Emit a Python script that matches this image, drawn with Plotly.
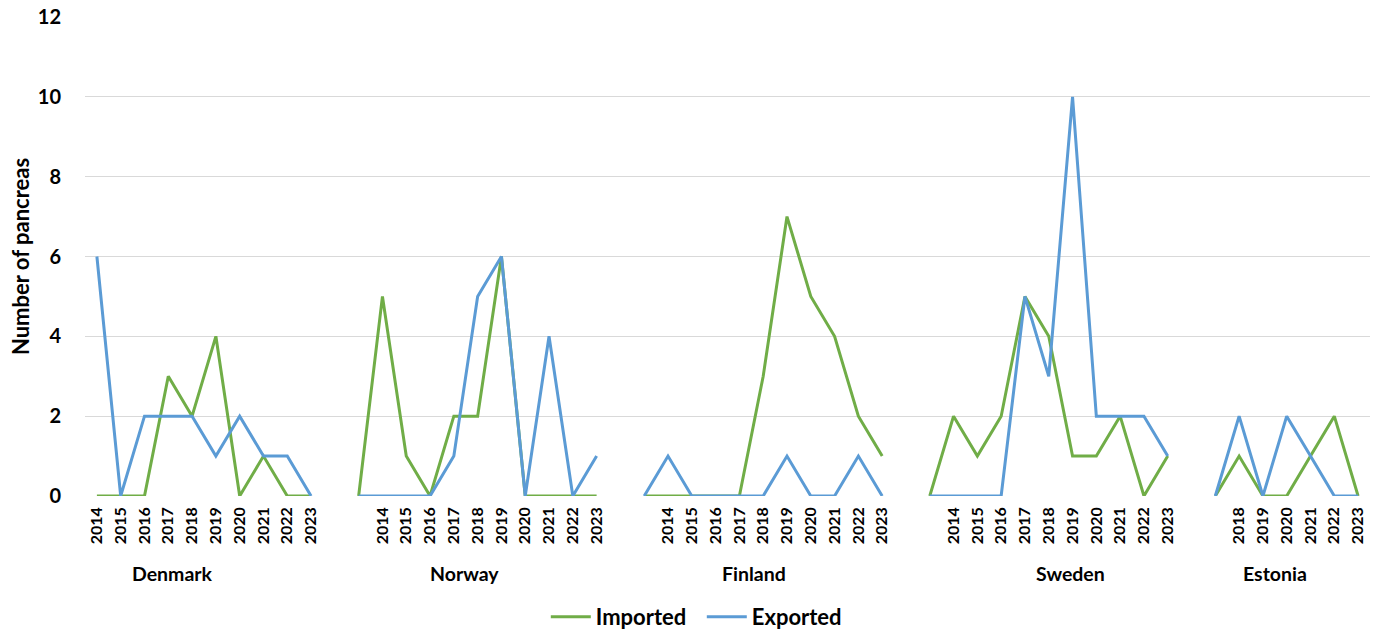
import plotly.graph_objects as go

# ---- data ----
countries = ["Denmark", "Norway", "Finland", "Sweden", "Estonia"]
years = {
    "Denmark": ["2014", "2015", "2016", "2017", "2018", "2019", "2020", "2021", "2022", "2023"],
    "Norway": ["", "2014", "2015", "2016", "2017", "2018", "2019", "2020", "2021", "2022", "2023"],
    "Finland": ["", "2014", "2015", "2016", "2017", "2018", "2019", "2020", "2021", "2022", "2023"],
    "Sweden": ["", "2014", "2015", "2016", "2017", "2018", "2019", "2020", "2021", "2022", "2023"],
    "Estonia": ["", "2018", "2019", "2020", "2021", "2022", "2023"],
}
imported = {
    "Denmark": [0, 0, 0, 3, 2, 4, 0, 1, 0, 0],
    "Norway": [0, 5, 1, 0, 2, 2, 6, 0, 0, 0, 0],
    "Finland": [0, 0, 0, 0, 0, 3, 7, 5, 4, 2, 1],
    "Sweden": [0, 2, 1, 2, 5, 4, 1, 1, 2, 0, 1],
    "Estonia": [0, 1, 0, 0, 1, 2, 0],
}
exported = {
    "Denmark": [6, 0, 2, 2, 2, 1, 2, 1, 1, 0],
    "Norway": [0, 0, 0, 0, 1, 5, 6, 0, 4, 0, 1],
    "Finland": [0, 1, 0, 0, 0, 0, 1, 0, 0, 1, 0],
    "Sweden": [0, 0, 0, 0, 5, 3, 10, 2, 2, 2, 1],
    "Estonia": [0, 2, 0, 2, 1, 0, 0],
}
y_ticks = [0, 2, 4, 6, 8, 10, 12]

# ---- build category sequence (blank slot between groups breaks the line) ----
xs, labels, imp, exp = [], [], [], []
group_first_last = []
idx = 0
for gi, c in enumerate(countries):
    if gi > 0:
        xs.append(idx); labels.append(""); imp.append(None); exp.append(None)
        idx += 1
    start = idx
    for yv, iv, ev in zip(years[c], imported[c], exported[c]):
        xs.append(idx); labels.append(yv); imp.append(iv); exp.append(ev)
        idx += 1
    group_first_last.append((start, idx - 1))

GREEN = "#70AD47"
BLUE = "#5B9BD5"
FONT = "Lato"

fig = go.Figure()
fig.add_trace(go.Scatter(x=xs, y=imp, mode="lines", name="Imported",
                         line=dict(color=GREEN, width=3), connectgaps=False))
fig.add_trace(go.Scatter(x=xs, y=exp, mode="lines", name="Exported",
                         line=dict(color=BLUE, width=3), connectgaps=False))

# group label offsets (layout: where each country label sits relative to its group)
label_offset = [3.19, 4.44, 4.6, 5.9, 2.5]
for c, (s, e), off in zip(countries, group_first_last, label_offset):
    fig.add_annotation(x=s + off, y=-0.161, xref="x", yref="paper", text=c,
                       showarrow=False, font=dict(family=FONT, size=19.5, color="#000000", weight="bold"),
                       xanchor="center", yanchor="middle")

fig.update_layout(
    width=1379, height=632,
    margin=dict(l=85, r=9, t=17, b=136, autoexpand=False),
    plot_bgcolor="white", paper_bgcolor="white",
    font=dict(family=FONT, color="#000000"),
    showlegend=True,
    legend=dict(orientation="h", x=0.480, y=-0.2526, xanchor="center", yanchor="middle",
                font=dict(family=FONT, size=22, weight="bold"), itemwidth=40,
                entrywidth=101, traceorder="normal"),
    xaxis=dict(range=[-0.5, len(xs) - 0.5], tickmode="array", tickvals=xs, ticktext=labels,
               tickangle=-90, tickfont=dict(family=FONT, size=16, weight="bold"),
               showgrid=False, zeroline=False, showline=False, ticks="",
               ticklabelstandoff=7, automargin=False, ticklabeloverflow="allow"),
    yaxis=dict(range=[0, 12], tickvals=y_ticks, showgrid=True, gridcolor="#D9D9D9", gridwidth=1,
               zeroline=False, showline=False, ticks="", automargin=False,
               ticklabeloverflow="allow",
               tickfont=dict(family=FONT, size=20, weight="bold"), ticklabelstandoff=23,
               title=dict(text="Number of pancreas", font=dict(family=FONT, size=22, weight="bold"),
                          standoff=2)),
)

fig.write_html("out.html", config={"displayModeBar": False},
               post_script="document.body.style.margin='0px';")
